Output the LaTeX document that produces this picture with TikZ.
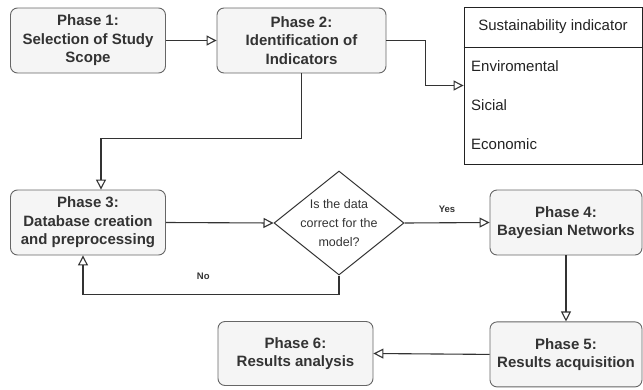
\documentclass[tikz,border=0pt]{standalone}
\usepackage{fontspec}
\setmainfont{Liberation Sans}
\usepackage{tikz}
\usetikzlibrary{arrows.meta,positioning,shapes.geometric}
\definecolor{Panel}{HTML}{F5F5F5}
\definecolor{Line}{HTML}{666666}
\definecolor{Ink}{HTML}{333333}
\definecolor{Rule}{HTML}{222222}

\begin{document}
\begin{tikzpicture}[x=1pt,y=-1pt,
  phase/.style={draw=Line,fill=Panel,rounded corners=7pt,minimum width=155pt,minimum height=65pt,align=center,text=Ink,font=\fontsize{15}{18.5}\selectfont\bfseries,line width=0.9pt},
  decision/.style={diamond,draw=Ink,minimum width=130pt,minimum height=104pt,inner sep=0pt,line width=1pt},
  qtext/.style={align=center,text=Ink,font=\fontsize{12.5}{19}\selectfont},
  cell/.style={inner sep=0pt,text=Rule,font=\fontsize{15}{18}\selectfont},
  flow/.style={draw=Ink,line width=1.1pt,-{Triangle[open,length=10pt,width=10pt]}},
  lbl/.style={font=\fontsize{9.5}{11}\selectfont\bfseries,text=Ink}
]
\useasboundingbox (0,0) rectangle (643,389);
% phases
\node[phase] (p1) at (88,40.5) {Phase 1:\\Selection of Study\\Scope};
\node[phase,minimum width=169pt] (p2) at (301.5,40.5) {Phase 2:\\Identification of\\Indicators};
\node[phase] (p3) at (88,222.5) {Phase 3:\\Database creation\\and preprocessing};
\node[decision,label={[qtext]center:Is the data\\correct for the\\model?}] (q) at (339,223) {};
\node[phase,minimum width=152pt] (p4) at (566,222.5) {Phase 4:\\Bayesian Networks};
\node[phase,minimum width=152pt,below=66pt of p4] (p5) {Phase 5:\\Results acquisition};
\node[phase,minimum height=64pt] (p6) at (295.5,353.5) {Phase 6:\\Results analysis};
% indicator table
\node[draw=Rule,line width=0.9pt,minimum width=178pt,minimum height=157pt,inner sep=0pt] (tab) at (553,85.5) {};
\draw[Rule,line width=0.9pt] ([yshift=-41pt]tab.north west) -- ([yshift=-41pt]tab.north east);
\node[cell] (hdr) at ([yshift=-20.5pt]tab.north) {Sustainability indicator};
\node[cell,anchor=west] (env) at (471,66) {Enviromental};
\node[cell,anchor=west] (soc) at (471,105) {Sicial};
\node[cell,anchor=west] (eco) at (471,144) {Economic};
% connectors
\draw[flow] (p1.east) -- (p2.west);
\draw[flow] (p2.east) -- ++(39,0) |- (tab.west);
\draw[flow] (p2.south) -- ++(0,65) -| ([xshift=13pt]p3.north);
\draw[flow] (p3.east) -- (q.west);
\draw[flow] (q.east) -- node[lbl,above=6pt] {Yes} (p4.west);
\draw[flow] (q.south) -- ++(0,19) -| node[lbl,pos=0.265,above=11pt] {No} ([xshift=-5pt]p3.south);
\draw[flow] (p4.south) -- (p5.north);
\draw[flow] (p5.west) -- (p6.east);
\end{tikzpicture}
\end{document}
